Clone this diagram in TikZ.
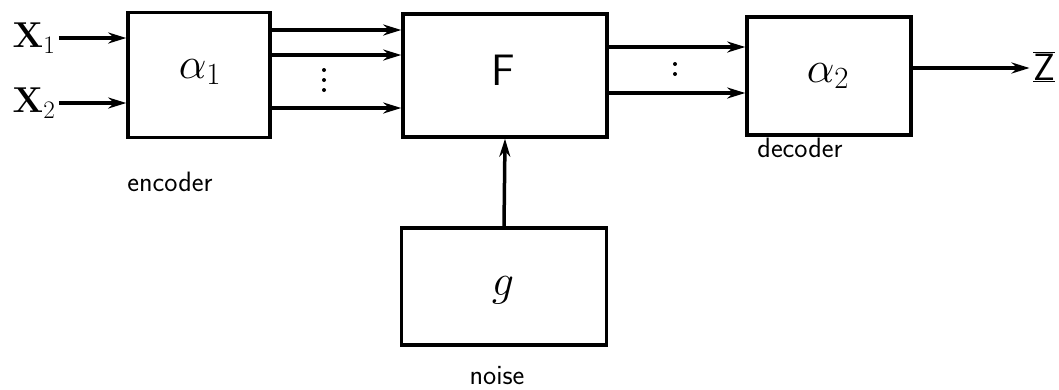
\RequirePackage{fix-cm}
\documentclass[tikz,border=0pt]{standalone}
\usetikzlibrary{arrows.meta}
\begin{document}
\begin{tikzpicture}[x=1pt,y=-1pt,
  blk/.style={draw,line width=3.5pt,inner sep=0pt},
  arr/.style={line width=3.5pt,-{Stealth[length=18pt,width=11pt]}},
  lbl/.style={font=\fontsize{28}{32}\selectfont\sffamily},
  sym/.style={font=\fontsize{44}{48}\selectfont},
  dot/.style={fill,circle,inner sep=0pt,minimum size=4pt}]
\useasboundingbox (0,0) rectangle (1059,389);
\node[blk,minimum width=142pt,minimum height=125pt] (enc) at (199,75) {};
\node[blk,minimum width=204pt,minimum height=123pt] (F) at (505,75.5) {};
\node[blk,minimum width=164pt,minimum height=118pt] (dec) at (829,76) {};
\node[blk,minimum width=205pt,minimum height=117pt] (g) at (504,286.5) {};
\node[sym] (a1) at (200,72) {$\alpha_1$};
\node[sym,font=\fontsize{44}{48}\selectfont\sffamily] (Ft) at (503,70) {F};
\node[sym] (a2) at (828,76) {$\alpha_2$};
\node[sym] (gt) at (503,290) {$g$};
\node[lbl] (encl) at (170,182) {encoder};
\node[lbl] (decl) at (800,148) {decoder};
\node[lbl] (noisel) at (497,376) {noise};
\node[font=\fontsize{36}{40}\selectfont] (x1) at (34,38) {$\mathbf{X}_1$};
\node[font=\fontsize{36}{40}\selectfont] (x2) at (34,103) {$\mathbf{X}_2$};
\node[font=\fontsize{38}{42}\selectfont\sffamily] (z) at (1044,67) {\underline{$\overline{\mbox{Z}}$}};
\coordinate (c1) at (0,30);
\coordinate (c2) at (0,55);
\coordinate (c3) at (0,108);
\coordinate (d1) at (0,47);
\coordinate (d2) at (0,93);
\draw[arr] (x1.east) -- (enc.west |- x1);
\draw[arr] (x2.east) -- (enc.west |- x2);
\draw[arr] (enc.east |- c1) -- (F.west |- c1);
\draw[arr] (enc.east |- c2) -- (F.west |- c2);
\draw[arr] (enc.east |- c3) -- (F.west |- c3);
\node[dot] (p1) at (324,70) {};
\node[dot] (p2) at (324,80) {};
\node[dot] (p3) at (324,90) {};
\draw[arr] (F.east |- d1) -- (dec.west |- d1);
\draw[arr] (F.east |- d2) -- (dec.west |- d2);
\node[dot] (q1) at (675,64) {};
\node[dot] (q2) at (675,74) {};
\coordinate (zout) at (0,68);
\draw[arr] (dec.east |- zout) -- (z.west |- zout);
\draw[arr] (g.north) -- (F.south);
\end{tikzpicture}
\end{document}
